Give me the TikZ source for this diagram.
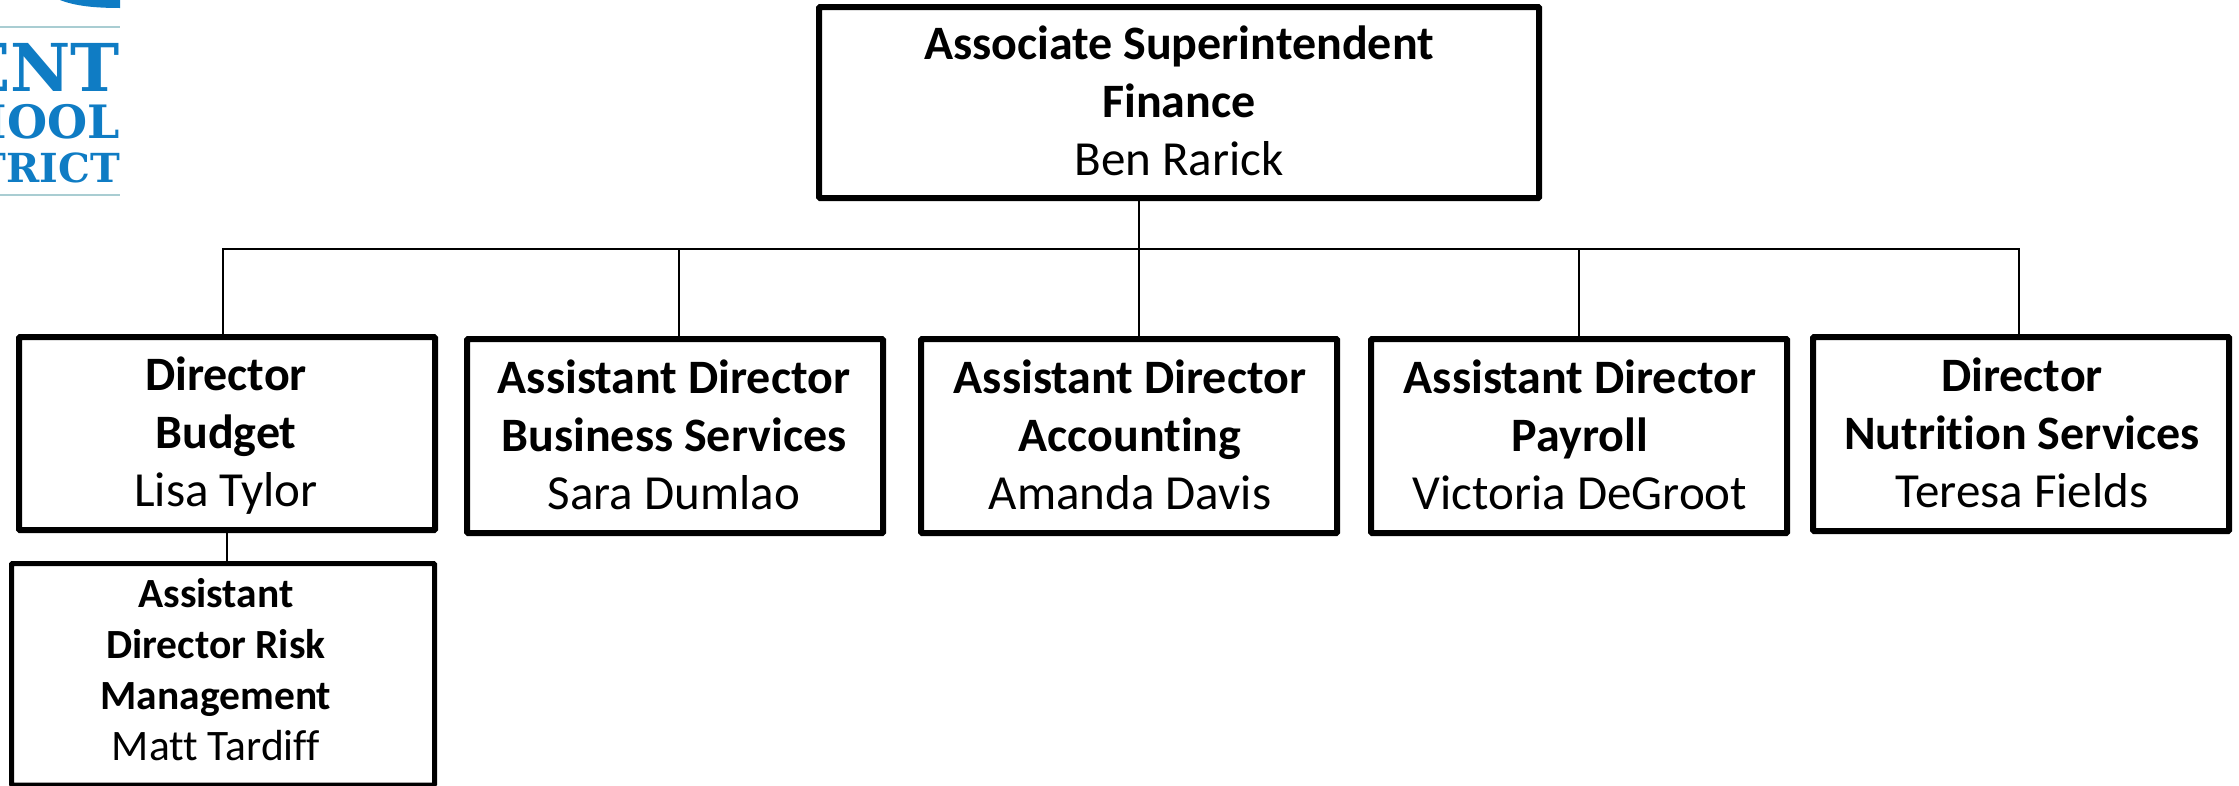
\documentclass[tikz,border=0pt]{standalone}
\usepackage{fontspec}
\setmainfont[Ligatures={NoCommon}]{Carlito}
\newfontfamily\logofont{DejaVu Serif}
\definecolor{logoblue}{HTML}{0F7CC4}
\definecolor{logorule}{HTML}{A9CDD2}
\newcommand{\pname}[1]{{\fontsize{49}{58}\selectfont #1}}
\newcommand{\sname}[1]{{\fontsize{43.5}{51}\selectfont #1}}
\tikzset{
 x=1pt,y=-1pt,
 orgbox/.style={draw=black,line width=6pt,rounded corners=1pt,fill=white},
 thinbox/.style={draw=black,line width=5pt,rounded corners=1pt},
 orgline/.style={draw=black,line width=2pt},
 boxtext/.style={align=center,inner sep=0pt,font=\fontsize{48}{58}\selectfont},
 subtext/.style={align=center,inner sep=0pt,font=\fontsize{41.5}{51}\selectfont},
 logotext/.style={anchor=base east,inner sep=0pt,text=logoblue},
}
\begin{document}
\begin{tikzpicture}
\useasboundingbox (0,0) rectangle (2239,785);
% logo
\fill[logoblue] (60,0) .. controls (75,6) and (95,8) .. (120,8) -- (120,0) -- cycle;
\draw[logorule,line width=2pt] (0,27) -- (120,27);
\draw[logorule,line width=2pt] (0,195) -- (120,195);
\node[logotext,font=\logofont\bfseries\fontsize{66}{66}\selectfont] (l1) at (120,91) {ENT};
\node[logotext,font=\logofont\bfseries\fontsize{46}{46}\selectfont] (l2) at (120,138) {HOOL};
\node[logotext,font=\logofont\bfseries\fontsize{40}{40}\selectfont] (l3) at (120,182) {TRICT};
% boxes
\draw[orgbox] (819,7) rectangle (1539,198);
\coordinate (topS) at (1139,201);
\node[boxtext] (ttop) at (1179,101) {\textbf{Associate Superintendent}\\\textbf{Finance}\\\pname{Ben Rarick}};
\coordinate (busT) at (223,337);
\coordinate (bizT) at (679,338);
\coordinate (accT) at (1139,338);
\coordinate (payT) at (1579,338);
\coordinate (nutT) at (2019,337);
\coordinate (busB) at (227,533);
\coordinate (subT) at (227,562);
\coordinate (j1) at (busT |- 0,249);
\coordinate (j2) at (bizT |- 0,249);
\coordinate (j3) at (accT |- 0,249);
\coordinate (j4) at (payT |- 0,249);
\coordinate (j5) at (nutT |- 0,249);
\draw[orgline] (topS) -- (accT);
\draw[orgline] (busT) -- (j1) -- (j5) -- (nutT);
\draw[orgline] (j2) -- (bizT);
\draw[orgline] (j4) -- (payT);
\draw[orgline] (busB) -- (subT);
\draw[orgbox] (19,337) rectangle (435,530);
\node[boxtext] (t1) at (226,436) {\textbf{Director}\\\textbf{Budget}\\\pname{Lisa Tylor}};
\draw[orgbox] (467,339) rectangle (883,533);
\node[boxtext] (t2) at (674,435) {\textbf{Assistant Director}\\\textbf{Business Services}\\\pname{Sara Dumlao}};
\draw[orgbox] (921,339) rectangle (1337,533);
\node[boxtext] (t3) at (1130,435) {\textbf{Assistant Director}\\\textbf{Accounting}\\\pname{Amanda Davis}};
\draw[orgbox] (1371,339) rectangle (1787,533);
\node[boxtext] (t4) at (1580,435) {\textbf{Assistant Director}\\\textbf{Payroll}\\\pname{Victoria DeGroot}};
\draw[orgbox] (1813,337) rectangle (2229,531);
\node[boxtext] (t5) at (2022,433) {\textbf{Director}\\\textbf{Nutrition Services}\\\pname{Teresa Fields}};
\draw[thinbox] (11.5,563.5) rectangle (434.5,785);
\node[subtext] (t6) at (216,670) {\textbf{Assistant}\\\textbf{Director Risk}\\\textbf{Management}\\\sname{Matt Tardiff}};
\end{tikzpicture}
\end{document}
